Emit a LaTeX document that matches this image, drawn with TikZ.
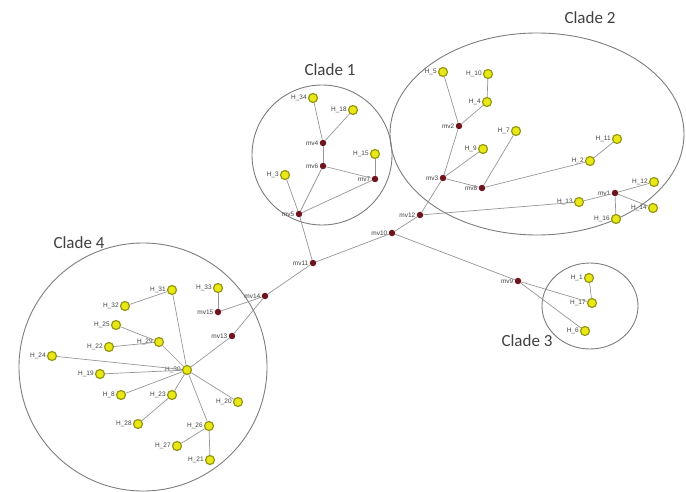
\documentclass[tikz,border=0pt]{standalone}
\usepackage{fontspec}
\setmainfont{Liberation Sans}
\newfontfamily\cladefont{Carlito}
\definecolor{hapfill}{RGB}{232,232,20}
\definecolor{hapdraw}{RGB}{150,150,20}
\definecolor{mvfill}{RGB}{110,20,30}
\definecolor{edgegray}{RGB}{150,150,150}
\definecolor{ringgray}{RGB}{125,125,125}
\tikzset{
  hap/.style={circle,fill=hapfill,draw=hapdraw,line width=1.2pt,minimum size=9pt,inner sep=0pt},
  mvnode/.style={circle,fill=mvfill,minimum size=6.5pt,inner sep=0pt},
  tag/.style={font=\fontsize{6.5}{7}\selectfont,text=black!75,inner sep=1pt},
  link/.style={draw=edgegray,line width=0.7pt},
  ring/.style={draw=ringgray,line width=0.9pt},
  clade/.style={font=\cladefont\fontsize{17}{20}\selectfont,text=black!75}
}

\begin{document}
\begin{tikzpicture}[x=1pt,y=-1pt]
\useasboundingbox (0,0) rectangle (686,492);

% clade outlines
\draw[ring] (322,155) circle (70pt);
\draw[ring] (537,134) ellipse (147pt and 101pt);
\draw[ring] (590,306) ellipse (48pt and 43pt);
\draw[ring] (143,367) circle (124pt);
\node[clade] (clade1) at (330,70) {Clade 1};
\node[clade] (clade2) at (590,18) {Clade 2};
\node[clade] (clade3) at (527,341) {Clade 3};
\node[clade] (clade4) at (79,243) {Clade 4};

% clade 1
\node[hap,label={[tag]left:H\_34}] (h34) at (313,98) {};
\node[hap,label={[tag]left:H\_18}] (h18) at (353,110) {};
\node[mvnode,label={[tag]left:mv4}] (mv4) at (323,143) {};
\node[mvnode,label={[tag]left:mv6}] (mv6) at (323,166) {};
\node[hap,label={[tag]left:H\_15}] (h15) at (375,154) {};
\node[mvnode,label={[tag]left:mv7}] (mv7) at (375,179) {};
\node[hap,label={[tag]left:H\_3}] (h3) at (285,175) {};
\node[mvnode,label={[tag]left:mv5}] (mv5) at (299,214) {};

% clade 2
\node[hap,label={[tag]left:H\_5}] (h5) at (443,72) {};
\node[hap,label={[tag]left:H\_10}] (h10) at (488,74) {};
\node[hap,label={[tag]left:H\_4}] (h4) at (487,102) {};
\node[mvnode,label={[tag]left:mv2}] (mv2) at (459,126) {};
\node[hap,label={[tag]left:H\_7}] (h7) at (516,131) {};
\node[hap,label={[tag]left:H\_9}] (h9) at (483,149) {};
\node[mvnode,label={[tag]left:mv3}] (mv3) at (443,178) {};
\node[mvnode,label={[tag]left:mv8}] (mv8) at (482,188) {};
\node[mvnode,label={[tag]left:mv12}] (mv12) at (420,215) {};
\node[hap,label={[tag]left:H\_11}] (h11) at (617,139) {};
\node[hap,label={[tag]left:H\_2}] (h2) at (590,161) {};
\node[mvnode,label={[tag]left:mv1}] (mv1) at (615,193) {};
\node[hap,label={[tag]left:H\_12}] (h12) at (654,182) {};
\node[hap,label={[tag]left:H\_14}] (h14) at (653,208) {};
\node[hap,label={[tag]left:H\_13}] (h13) at (579,202) {};
\node[hap,label={[tag]left:H\_16}] (h16) at (616,219) {};

% centre
\node[mvnode,label={[tag]left:mv10}] (mv10) at (392,233) {};
\node[mvnode,label={[tag]left:mv11}] (mv11) at (313,263) {};

% clade 3
\node[mvnode,label={[tag]left:mv9}] (mv9) at (518,281) {};
\node[hap,label={[tag]left:H\_1}] (h1) at (589,278) {};
\node[hap,label={[tag]left:H\_17}] (h17) at (592,303) {};
\node[hap,label={[tag]left:H\_6}] (h6) at (585,331) {};

% clade 4
\node[hap,label={[tag]left:H\_31}] (h31) at (172,290) {};
\node[hap,label={[tag]left:H\_33}] (h33) at (218,288) {};
\node[mvnode,label={[tag]left:mv15}] (mv15) at (218,312) {};
\node[mvnode,label={[tag]left:mv14}] (mv14) at (265,296) {};
\node[mvnode,label={[tag]left:mv13}] (mv13) at (232,336) {};
\node[hap,label={[tag]left:H\_32}] (h32) at (125,306) {};
\node[hap,label={[tag]left:H\_25}] (h25) at (116,325) {};
\node[hap,label={[tag]left:H\_22}] (h22) at (109,347) {};
\node[hap,label={[tag]left:H\_29}] (h29) at (159,342) {};
\node[hap,label={[tag]left:H\_24}] (h24) at (52,356) {};
\node[hap,label={[tag]left:H\_19}] (h19) at (100,374) {};
\node[hap,label={[tag]left:H\_30}] (h30) at (187,370) {};
\node[hap,label={[tag]left:H\_8}] (h8) at (121,395) {};
\node[hap,label={[tag]left:H\_23}] (h23) at (172,395) {};
\node[hap,label={[tag]left:H\_20}] (h20) at (238,402) {};
\node[hap,label={[tag]left:H\_28}] (h28) at (138,424) {};
\node[hap,label={[tag]left:H\_26}] (h26) at (209,426) {};
\node[hap,label={[tag]left:H\_27}] (h27) at (177,446) {};
\node[hap,label={[tag]left:H\_21}] (h21) at (210,460) {};

% links
\draw[link] (h34) -- (mv4);
\draw[link] (h18) -- (mv4);
\draw[link] (mv4) -- (mv6);
\draw[link] (mv6) -- (mv7);
\draw[link] (h15) -- (mv7);
\draw[link] (mv6) -- (mv5);
\draw[link] (h3) -- (mv5);
\draw[link] (mv7) -- (mv5);
\draw[link] (mv5) -- (mv11);

\draw[link] (h5) -- (mv2);
\draw[link] (h10) -- (h4);
\draw[link] (h4) -- (mv2);
\draw[link] (mv2) -- (mv3);
\draw[link] (h9) -- (mv3);
\draw[link] (mv3) -- (mv8);
\draw[link] (h7) -- (mv8);
\draw[link] (mv8) -- (h2);
\draw[link] (h2) -- (h11);
\draw[link] (mv3) -- (mv12);
\draw[link] (mv12) -- (h13);
\draw[link] (h13) -- (mv1);
\draw[link] (mv1) -- (h12);
\draw[link] (mv1) -- (h14);
\draw[link] (mv1) -- (h16);

\draw[link] (mv12) -- (mv10);
\draw[link] (mv10) -- (mv11);
\draw[link] (mv10) -- (mv9);
\draw[link] (mv11) -- (mv14);

\draw[link] (mv9) -- (h17);
\draw[link] (mv9) -- (h6);
\draw[link] (h1) -- (h17);

\draw[link] (mv14) -- (mv15);
\draw[link] (mv15) -- (h33);
\draw[link] (mv14) -- (mv13);
\draw[link] (mv13) -- (h30);
\draw[link] (h31) -- (h30);
\draw[link] (h32) -- (h31);
\draw[link] (h25) -- (h29);
\draw[link] (h22) -- (h29);
\draw[link] (h29) -- (h30);
\draw[link] (h24) -- (h30);
\draw[link] (h19) -- (h30);
\draw[link] (h8) -- (h30);
\draw[link] (h23) -- (h30);
\draw[link] (h28) -- (h23);
\draw[link] (h20) -- (h30);
\draw[link] (h26) -- (h30);
\draw[link] (h27) -- (h26);
\draw[link] (h26) -- (h21);
\end{tikzpicture}
\end{document}
